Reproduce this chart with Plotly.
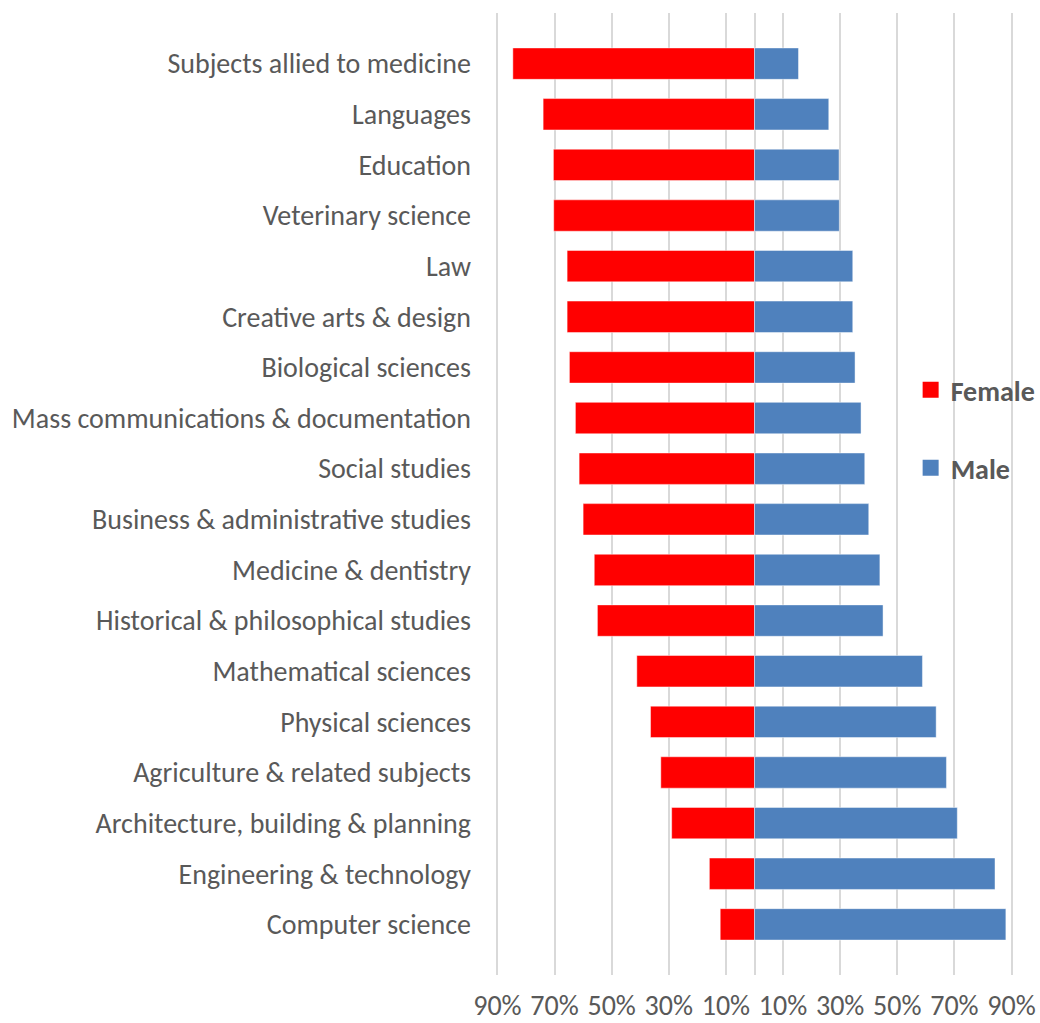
import plotly.graph_objects as go

# Share of students by sex in each subject area (percent)
subjects = [
    "Subjects allied to medicine",
    "Languages",
    "Education",
    "Veterinary science",
    "Law",
    "Creative arts & design",
    "Biological sciences",
    "Mass communications & documentation",
    "Social studies",
    "Business & administrative studies",
    "Medicine & dentistry",
    "Historical & philosophical studies",
    "Mathematical sciences",
    "Physical sciences",
    "Agriculture & related subjects",
    "Architecture, building & planning",
    "Engineering & technology",
    "Computer science",
]
female = [84.6, 74.0, 70.4, 70.3, 65.6, 65.6, 64.8, 62.7, 61.4, 60.0,
          56.1, 55.0, 41.2, 36.4, 32.8, 29.0, 15.8, 12.0]
male = [15.4, 26.0, 29.6, 29.7, 34.4, 34.4, 35.2, 37.3, 38.6, 40.0,
        43.9, 45.0, 58.8, 63.6, 67.2, 71.0, 84.2, 88.0]

tick_values = [-90, -70, -50, -30, -10, 10, 30, 50, 70, 90]
tick_labels = ["90%", "70%", "50%", "30%", "10%", "10%", "30%", "50%", "70%", "90%"]

FEMALE_COLOR = "#FF0000"
MALE_COLOR = "#4F81BD"
TEXT_COLOR = "#595959"
FONT = "Calibri, Carlito, Lato, sans-serif"

idx = list(range(len(subjects)))

fig = go.Figure()
fig.add_trace(go.Bar(
    y=idx, x=[-v for v in female], base=0, orientation="h",
    width=0.62, marker=dict(color=FEMALE_COLOR, line=dict(color="rgba(255,255,255,0.45)", width=1)),
    showlegend=False, hoverinfo="skip",
))
fig.add_trace(go.Bar(
    y=idx, x=male, base=0, orientation="h",
    width=0.62, marker=dict(color=MALE_COLOR, line=dict(color="rgba(255,255,255,0.45)", width=1)),
    showlegend=False, hoverinfo="skip",
))

# Legend entries with square swatches
fig.add_trace(go.Scatter(
    x=[None], y=[None], mode="markers", name="Female",
    marker=dict(symbol="square", size=16, color=FEMALE_COLOR, line=dict(width=0)),
    legend="legend",
))
fig.add_trace(go.Scatter(
    x=[None], y=[None], mode="markers", name="Male",
    marker=dict(symbol="square", size=16, color=MALE_COLOR, line=dict(width=0)),
    legend="legend2",
))

legend_style = dict(
    bgcolor="rgba(0,0,0,0)", borderwidth=0,
    font=dict(family=FONT, size=28, color=TEXT_COLOR, weight="bold"),
    xanchor="left", yanchor="middle",
)

fig.update_layout(
    width=1040, height=1023,
    margin=dict(l=496, r=27, t=13, b=48, autoexpand=False),
    paper_bgcolor="white", plot_bgcolor="white",
    barmode="overlay",
    font=dict(family=FONT, color=TEXT_COLOR),
    legend=dict(x=0.802, y=0.608, **legend_style),
    legend2=dict(x=0.802, y=0.527, **legend_style),
    xaxis=dict(
        range=[-90.5, 90.5], tickvals=tick_values, ticktext=tick_labels,
        showgrid=True, gridcolor="#D9D9D9", gridwidth=1.5,
        zeroline=True, zerolinecolor="#D9D9D9", zerolinewidth=1.5,
        showline=False, ticks="", ticklabelstandoff=11,
        tickfont=dict(family=FONT, size=28, color=TEXT_COLOR),
        automargin=False, fixedrange=True,
    ),
    yaxis=dict(
        range=[18, -1], tickvals=idx, ticktext=subjects,
        showgrid=False, zeroline=False, showline=False, ticks="",
        ticklabelstandoff=24,
        tickfont=dict(family=FONT, size=28, color=TEXT_COLOR),
        automargin=False, fixedrange=True,
    ),
)

fig.write_html("out.html")
